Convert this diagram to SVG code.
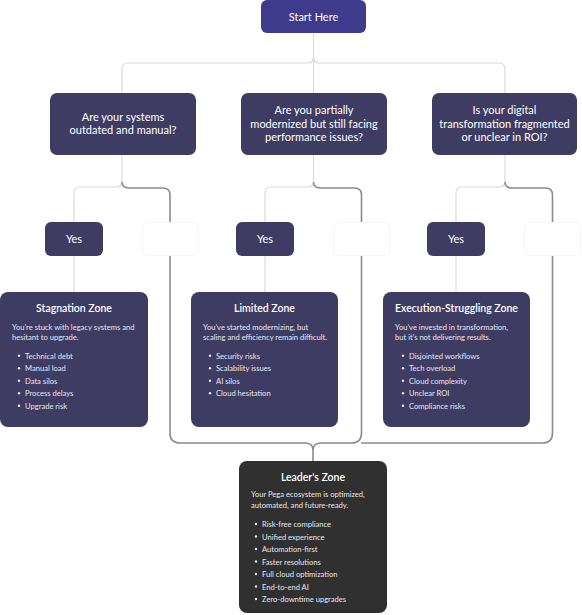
<svg xmlns="http://www.w3.org/2000/svg" width="582" height="615" viewBox="0 0 582 615">
<style>
text{font-family:Lato,"Liberation Sans",sans-serif;fill:#ffffff}
.q{font-size:11px;text-anchor:middle}
.t{font-size:10.5px;font-weight:600;text-anchor:middle}
.d{font-size:7.6px;fill:#e6e6ee}
.b{font-size:7.6px;fill:#e6e6ee}
.qbox{fill:#3f3c63}
.zone{fill:#3f3c63}
.no{fill:#ffffff;stroke:#f5f5f5;stroke-width:1}
.lt{fill:none;stroke:#dadada;stroke-width:1.2}
.dk{fill:none;stroke:#8c8c8c;stroke-width:1.6}
.dot{fill:#e6e6ee}
</style>
<rect width="582" height="615" fill="#ffffff"/>
<g id="connectors">
<path class="lt" d="M313.5,33 V93"/>
<path class="lt" d="M313.5,57 Q313.5,63 307.5,63 H128 Q122,63 122,69 V93"/>
<path class="lt" d="M313.5,57 Q313.5,63 319.5,63 H499 Q505,63 505,69 V93"/>
<path class="lt" d="M122,155 V183"/>
<path class="lt" d="M122,181 Q122,187 116,187 H80 Q74,187 74,193 V222"/>
<path class="lt" d="M74,256 V292"/>
<path class="lt" d="M313.5,155 V183"/>
<path class="lt" d="M313.5,181 Q313.5,187 307.5,187 H271 Q265,187 265,193 V222"/>
<path class="lt" d="M265,256 V292"/>
<path class="lt" d="M505,155 V183"/>
<path class="lt" d="M505,181 Q505,187 499,187 H462 Q456,187 456,193 V222"/>
<path class="lt" d="M456,256 V292"/>
<path class="dk" d="M122,182 Q122,188 129,188 H163 Q170,188 170,195 V433 Q170,443 180,443 H305 Q313,443 313,450 V461"/>
<path class="dk" d="M313.5,182 Q313.5,188 320.5,188 H354.5 Q361.5,188 361.5,195 V433 Q361.5,443 351.5,443 H321 Q313,443 313,450"/>
<path class="dk" d="M505,182 Q505,188 512,188 H545.5 Q552.5,188 552.5,195 V433 Q552.5,443 542.5,443 H361"/>
</g>
<g id="start">
<rect x="261" y="0" width="105" height="33" rx="6" fill="#3e3a8c"/>
<text class="q" x="313.5" y="21">Start Here</text>
</g>
<g id="q1">
<rect class="qbox" x="50" y="93" width="146" height="62" rx="7"/>
<text class="q" x="123" y="121">Are your systems</text>
<text class="q" x="123" y="134">outdated and manual?</text>
</g>
<g id="q2">
<rect class="qbox" x="241" y="93" width="146" height="62" rx="7"/>
<text class="q" x="314" y="114">Are you partially</text>
<text class="q" x="314" y="128">modernized but still facing</text>
<text class="q" x="314" y="141">performance issues?</text>
</g>
<g id="q3">
<rect class="qbox" x="432" y="93" width="145" height="62" rx="7"/>
<text class="q" x="504.5" y="114">Is your digital</text>
<text class="q" x="504.5" y="128">transformation fragmented</text>
<text class="q" x="504.5" y="141">or unclear in ROI?</text>
</g>
<g id="yes1">
<rect class="qbox" x="45" y="222" width="58" height="34" rx="6"/>
<text class="q" x="74" y="243">Yes</text>
</g>
<g id="no1"><rect class="no" x="142.5" y="222.5" width="56" height="33" rx="6"/></g>
<g id="yes2">
<rect class="qbox" x="236" y="222" width="58" height="34" rx="6"/>
<text class="q" x="265" y="243">Yes</text>
</g>
<g id="no2"><rect class="no" x="333.5" y="222.5" width="56" height="33" rx="6"/></g>
<g id="yes3">
<rect class="qbox" x="427" y="222" width="58" height="34" rx="6"/>
<text class="q" x="456" y="243">Yes</text>
</g>
<g id="no3"><rect class="no" x="524.5" y="222.5" width="56" height="33" rx="6"/></g>
<g id="stagnation">
<rect class="zone" x="0" y="292" width="148" height="135" rx="8"/>
<text class="t" x="74" y="312">Stagnation Zone</text>
<text class="d" x="12" y="330">You’re stuck with legacy systems and</text>
<text class="d" x="12" y="340">hesitant to upgrade.</text>
<circle class="dot" cx="19" cy="355.7" r="1.2"/><text class="b" x="25" y="358.5">Technical debt</text>
<circle class="dot" cx="19" cy="368.2" r="1.2"/><text class="b" x="25" y="371">Manual load</text>
<circle class="dot" cx="19" cy="380.7" r="1.2"/><text class="b" x="25" y="383.5">Data silos</text>
<circle class="dot" cx="19" cy="393.2" r="1.2"/><text class="b" x="25" y="396">Process delays</text>
<circle class="dot" cx="19" cy="405.7" r="1.2"/><text class="b" x="25" y="408.5">Upgrade risk</text>
</g>
<g id="limited">
<rect class="zone" x="191" y="292" width="147" height="135" rx="8"/>
<text class="t" x="264.5" y="312">Limited Zone</text>
<text class="d" x="203" y="330">You’ve started modernizing, but</text>
<text class="d" x="203" y="340">scaling and efficiency remain difficult.</text>
<circle class="dot" cx="210" cy="355.7" r="1.2"/><text class="b" x="216" y="358.5">Security risks</text>
<circle class="dot" cx="210" cy="368.2" r="1.2"/><text class="b" x="216" y="371">Scalability issues</text>
<circle class="dot" cx="210" cy="380.7" r="1.2"/><text class="b" x="216" y="383.5">AI silos</text>
<circle class="dot" cx="210" cy="393.2" r="1.2"/><text class="b" x="216" y="396">Cloud hesitation</text>
</g>
<g id="execution">
<rect class="zone" x="383" y="292" width="147" height="135" rx="8"/>
<text class="t" x="456.5" y="312">Execution-Struggling Zone</text>
<text class="d" x="395" y="330">You’ve invested in transformation,</text>
<text class="d" x="395" y="340">but it’s not delivering results.</text>
<circle class="dot" cx="403" cy="355.7" r="1.2"/><text class="b" x="409" y="358.5">Disjointed workflows</text>
<circle class="dot" cx="403" cy="368.2" r="1.2"/><text class="b" x="409" y="371">Tech overload</text>
<circle class="dot" cx="403" cy="380.7" r="1.2"/><text class="b" x="409" y="383.5">Cloud complexity</text>
<circle class="dot" cx="403" cy="393.2" r="1.2"/><text class="b" x="409" y="396">Unclear ROI</text>
<circle class="dot" cx="403" cy="405.7" r="1.2"/><text class="b" x="409" y="408.5">Compliance risks</text>
</g>
<g id="leader">
<rect x="239" y="461" width="148" height="152" rx="8" fill="#303030"/>
<text class="t" x="313" y="481">Leader's Zone</text>
<text class="d" x="251" y="497">Your Pega ecosystem is optimized,</text>
<text class="d" x="251" y="508">automated, and future-ready.</text>
<circle class="dot" cx="256" cy="524" r="1.2"/><text class="b" x="262" y="527">Risk-free compliance</text>
<circle class="dot" cx="256" cy="536.5" r="1.2"/><text class="b" x="262" y="539.5">Unified experience</text>
<circle class="dot" cx="256" cy="549" r="1.2"/><text class="b" x="262" y="552">Automation-first</text>
<circle class="dot" cx="256" cy="561.5" r="1.2"/><text class="b" x="262" y="564.5">Faster resolutions</text>
<circle class="dot" cx="256" cy="574" r="1.2"/><text class="b" x="262" y="577">Full cloud optimization</text>
<circle class="dot" cx="256" cy="586.5" r="1.2"/><text class="b" x="262" y="589.5">End-to-end AI</text>
<circle class="dot" cx="256" cy="599" r="1.2"/><text class="b" x="262" y="602">Zero-downtime upgrades</text>
</g>
</svg>
